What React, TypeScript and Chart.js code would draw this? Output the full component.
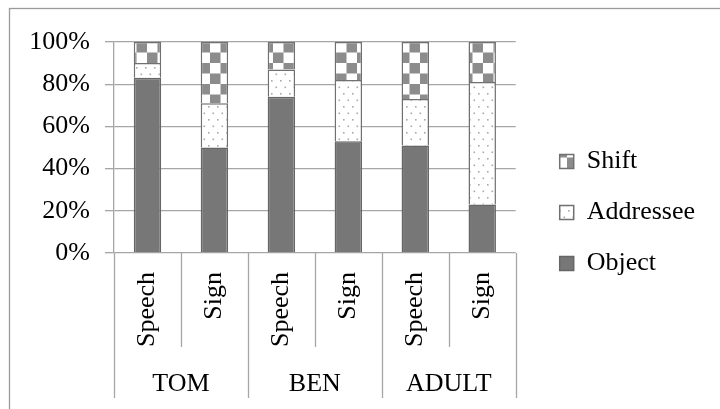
import React, { useEffect, useRef } from "react";
import { Chart, registerables } from "chart.js";

Chart.register(...registerables);

const categories = ["Speech", "Sign", "Speech", "Sign", "Speech", "Sign"];
const groups = ["TOM", "BEN", "ADULT"];
const objectValues = [83, 50, 74, 53, 51, 23];
const addresseeValues = [7, 21, 13, 29, 22, 58];
const shiftValues = [10, 29, 13, 18, 27, 19];
const yTicks = [0, 20, 40, 60, 80, 100];

const FONT = '"Liberation Serif", "Times New Roman", serif';
const GRID = "#a6a6a6";
const FS = 26;

function makeChecker(): CanvasPattern | string {
  const c = document.createElement("canvas");
  c.width = 21;
  c.height = 21;
  const g = c.getContext("2d");
  if (!g) return "#8a8a8a";
  g.fillStyle = "#ffffff";
  g.fillRect(0, 0, 21, 21);
  g.fillStyle = "#8c8c8c";
  g.fillRect(10.5, 0, 10.5, 10.5);
  g.fillRect(0, 10.5, 10.5, 10.5);
  return g.createPattern(c, "repeat") || "#8a8a8a";
}

function makeDots(): CanvasPattern | string {
  const c = document.createElement("canvas");
  c.width = 9;
  c.height = 13;
  const g = c.getContext("2d");
  if (!g) return "#ffffff";
  g.fillStyle = "#ffffff";
  g.fillRect(0, 0, 9, 13);
  g.fillStyle = "#a9a9a9";
  g.fillRect(1, 2, 1.6, 1.6);
  g.fillRect(5.5, 8.5, 1.6, 1.6);
  return g.createPattern(c, "repeat") || "#ffffff";
}

const framePlugin = {
  id: "frame",
  beforeDraw(chart: any) {
    const ctx = chart.ctx;
    ctx.save();
    ctx.fillStyle = "#ffffff";
    ctx.fillRect(0, 0, chart.width, chart.height);
    ctx.strokeStyle = "#9a9a9a";
    ctx.lineWidth = 1.3;
    ctx.strokeRect(9.5, 8.5, chart.width + 20, chart.height + 20);
    ctx.restore();
  },
};

const separatorPlugin = {
  id: "separators",
  afterDraw(chart: any) {
    const x = chart.scales.x;
    const x2 = chart.scales.x2;
    const area = chart.chartArea;
    const n = categories.length;
    const per = n / groups.length;
    const step = x.getPixelForValue(1) - x.getPixelForValue(0);
    const start = x.getPixelForValue(0) - step / 2;
    const ctx = chart.ctx;
    ctx.save();
    ctx.strokeStyle = GRID;
    ctx.lineWidth = 1.3;
    for (let i = 0; i <= n; i++) {
      const px = Math.round(start + i * step) + 0.5;
      const isGroup = i % per === 0;
      const yEnd = isGroup ? x2.bottom : x.bottom;
      ctx.beginPath();
      ctx.moveTo(px, area.bottom);
      ctx.lineTo(px, yEnd);
      ctx.stroke();
    }
    ctx.restore();
  },
};

export default function App() {
  const ref = useRef<HTMLCanvasElement | null>(null);

  useEffect(() => {
    if (!ref.current) return;
    const checker = makeChecker();
    const dots = makeDots();
    const chart = new Chart(ref.current, {
      type: "bar",
      data: {
        labels: categories,
        datasets: [
          {
            label: "Object",
            data: objectValues,
            backgroundColor: "#777777",
            borderColor: "#666666",
            borderWidth: 1.5,
            barPercentage: 0.41,
            categoryPercentage: 1,
          },
          {
            label: "Addressee",
            data: addresseeValues,
            backgroundColor: dots as any,
            borderColor: "#707070",
            borderWidth: 1.5,
            barPercentage: 0.41,
            categoryPercentage: 1,
          },
          {
            label: "Shift",
            data: shiftValues,
            backgroundColor: checker as any,
            borderColor: "#707070",
            borderWidth: 1.5,
            barPercentage: 0.41,
            categoryPercentage: 1,
          },
        ],
      },
      options: {
        responsive: false,
        animation: false,
        layout: { padding: { left: 0, top: 42, right: 15, bottom: 11 } },
        plugins: {
          tooltip: { enabled: false },
          legend: {
            position: "right",
            align: "start",
            reverse: true,
            maxWidth: 240,
            title: {
              display: true,
              text: "",
              font: { size: 12 },
              padding: { top: 67, bottom: 0 },
            },
            labels: {
              boxWidth: 14,
              boxHeight: 14,
              padding: 25,
              color: "#000000",
              font: { family: FONT, size: FS },
            },
          },
        },
        scales: {
          x: {
            stacked: true,
            offset: true,
            grid: { display: false },
            border: { display: false },
            ticks: {
              minRotation: 90,
              maxRotation: 90,
              padding: 11,
              color: "#000000",
              font: { family: FONT, size: FS },
              autoSkip: false,
            },
            afterFit: (s: any) => {
              s.height = 94;
            },
          },
          x2: {
            type: "category",
            labels: groups,
            position: "bottom",
            offset: true,
            grid: { display: false },
            border: { display: false },
            ticks: {
              padding: 14,
              color: "#000000",
              font: { family: FONT, size: FS },
              autoSkip: false,
            },
            afterFit: (s: any) => {
              s.height = 51;
            },
          },
          y: {
            stacked: true,
            min: 0,
            max: 100,
            afterBuildTicks: (s: any) => {
              s.ticks = yTicks.map((v) => ({ value: v }));
            },
            afterFit: (s: any) => {
              s.width = 114;
            },
            grid: { color: GRID, lineWidth: 1.3, tickLength: 9 },
            border: { display: true, color: GRID, width: 1.3 },
            ticks: {
              padding: 15,
              autoSkip: false,
              color: "#000000",
              font: { family: FONT, size: FS },
              callback: (v: any) => v + "%",
            },
          },
          pad: {
            type: "linear",
            position: "right",
            display: true,
            grid: { display: false },
            border: { display: false },
            ticks: { display: false },
            afterFit: (s: any) => {
              s.width = 19;
            },
          },
        },
      },
      plugins: [framePlugin, separatorPlugin],
    });
    return () => chart.destroy();
  }, []);

  return (
    <div style={{ position: "fixed", left: 0, top: 0, width: 720, height: 409 }}>
      <canvas ref={ref} width={720} height={409} />
    </div>
  );
}
